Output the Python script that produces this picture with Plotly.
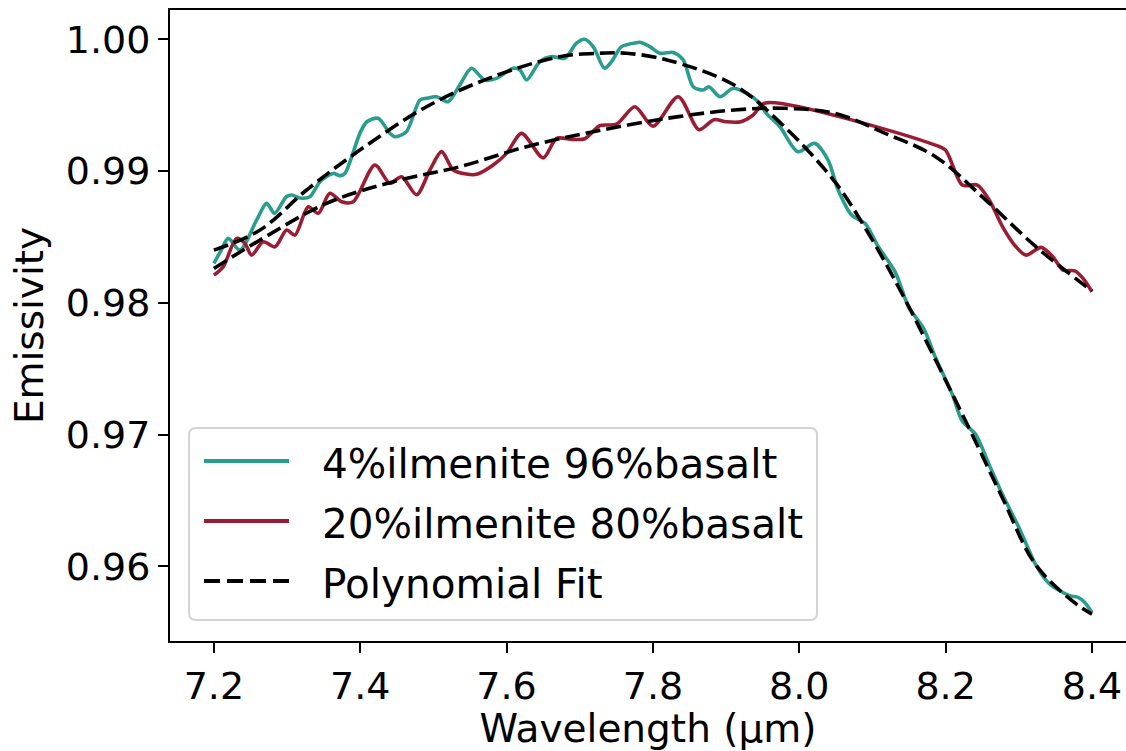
import plotly.graph_objects as go

# ---------------- data ----------------
teal_x = [7.200, 7.210, 7.2195, 7.2355, 7.2583, 7.272, 7.283, 7.299, 7.3062, 7.3175,
          7.3312, 7.345, 7.363, 7.372, 7.379, 7.3995, 7.409, 7.4245, 7.4405, 7.4475,
          7.463, 7.4815, 7.4905, 7.5043, 7.520, 7.536, 7.552, 7.570, 7.5864, 7.609,
          7.6182, 7.6275, 7.6455, 7.6615, 7.6795, 7.6955, 7.7066, 7.7184, 7.7338, 7.7435,
          7.757, 7.7777, 7.7822, 7.7959, 7.8096, 7.8277, 7.8414, 7.855, 7.8687, 7.8765,
          7.8916, 7.9097, 7.928, 7.9439, 7.955, 7.9736, 7.998, 8.0211, 8.0394, 8.0532,
          8.0715, 8.0898, 8.1081, 8.131, 8.1494, 8.170, 8.186, 8.209, 8.2228, 8.2411,
          8.2595, 8.2779, 8.3008, 8.3237, 8.342, 8.3696, 8.381, 8.3902, 8.400]
teal_y = [0.98300, 0.98400, 0.98489, 0.98400, 0.98628, 0.98755, 0.98679, 0.98805, 0.98818, 0.98795,
          0.98805, 0.98919, 0.98982, 0.98965, 0.98982, 0.99286, 0.99374, 0.99400, 0.99286, 0.99260,
          0.99298, 0.99539, 0.99552, 0.99564, 0.99526, 0.99653, 0.99780, 0.99691, 0.99703, 0.99780,
          0.99767, 0.99691, 0.99830, 0.99868, 0.99856, 0.99970, 1.00000, 0.99944, 0.99780, 0.99830,
          0.99944, 0.99974, 0.99977, 0.99944, 0.99894, 0.99900, 0.99843, 0.99640, 0.99615, 0.99640,
          0.99564, 0.99628, 0.99590, 0.99526, 0.99438, 0.99336, 0.99147, 0.99210, 0.99083, 0.98856,
          0.98666, 0.98603, 0.98425, 0.98235, 0.97970, 0.97806, 0.97587, 0.97307, 0.97103, 0.97001,
          0.96772, 0.96543, 0.96288, 0.96008, 0.95867, 0.95778, 0.95765, 0.95727, 0.95650]

red_x = [7.200, 7.2127, 7.231, 7.2424, 7.2515, 7.2674, 7.2834, 7.2994, 7.3107, 7.3289,
         7.3426, 7.3585, 7.3745, 7.3904, 7.420, 7.4405, 7.4565, 7.477, 7.4952, 7.5112,
         7.5271, 7.545, 7.559, 7.5817, 7.600, 7.6205, 7.650, 7.6683, 7.690, 7.707,
         7.7275, 7.750, 7.7754, 7.800, 7.8346, 7.8629, 7.8835, 7.900, 7.9202, 7.937,
         7.9535, 8.186, 8.1999, 8.2228, 8.2434, 8.2596, 8.2779, 8.2962, 8.310, 8.3306,
         8.3466, 8.3605, 8.3765, 8.3879, 8.400]
red_y = [0.98210, 0.98273, 0.98489, 0.98451, 0.98362, 0.98463, 0.98425, 0.98552, 0.98514, 0.98729,
         0.98679, 0.98831, 0.98767, 0.98767, 0.99046, 0.98907, 0.98957, 0.98820, 0.99008, 0.99147,
         0.99008, 0.98977, 0.98975, 0.99046, 0.99134, 0.99286, 0.99100, 0.99248, 0.99240, 0.99245,
         0.99345, 0.99355, 0.99488, 0.99340, 0.99564, 0.99314, 0.99390, 0.99374, 0.99374, 0.99425,
         0.99517, 0.99197, 0.99159, 0.98894, 0.98894, 0.98780, 0.98577, 0.98425, 0.98362, 0.98421,
         0.98349, 0.98248, 0.98243, 0.98185, 0.98084]

fit_teal_x = [7.200, 7.263, 7.3267, 7.3995, 7.4906, 7.5817, 7.6729, 7.7275, 7.764, 7.8192,
              7.911, 7.975, 8.0486, 8.0945, 8.1403, 8.2318, 8.2779, 8.3237, 8.3788, 8.400]
fit_teal_y = [0.98400, 0.98552, 0.98856, 0.99159, 0.99488, 0.99716, 0.99868, 0.99894, 0.99894, 0.99843,
              0.99653, 0.99362, 0.98919, 0.98527, 0.98071, 0.97052, 0.96517, 0.96008, 0.95714, 0.95638]

fit_red_x = [7.200, 7.2629, 7.354, 7.445, 7.5362, 7.6273, 7.7184, 7.8192, 7.911, 7.9799,
             8.0486, 8.1174, 8.1862, 8.2549, 8.3237, 8.400]
fit_red_y = [0.98261, 0.98476, 0.98755, 0.98919, 0.99033, 0.99185, 0.99298, 0.99400, 0.99463, 0.99476,
             0.99438, 0.99286, 0.99109, 0.98780, 0.98425, 0.98090]

legend_labels = ["4%ilmenite 96%basalt", "20%ilmenite 80%basalt", "Polynomial Fit"]
x_ticks = [7.2, 7.4, 7.6, 7.8, 8.0, 8.2, 8.4]
y_ticks = [0.96, 0.97, 0.98, 0.99, 1.00]

TEAL = "#2a9d8f"
RED = "#9b1d33"
FONT = "DejaVu Sans"

fig = go.Figure()
fig.add_trace(go.Scatter(x=teal_x, y=teal_y, mode="lines", name=legend_labels[0],
                         line=dict(color=TEAL, width=3.6, shape="spline", smoothing=0.8)))
fig.add_trace(go.Scatter(x=red_x, y=red_y, mode="lines", name=legend_labels[1],
                         line=dict(color=RED, width=3.6, shape="spline", smoothing=0.8)))
fig.add_trace(go.Scatter(x=fit_teal_x, y=fit_teal_y, mode="lines", name=legend_labels[2],
                         line=dict(color="black", width=3.6, dash="15px,6px", shape="spline")))
fig.add_trace(go.Scatter(x=fit_red_x, y=fit_red_y, mode="lines", name=legend_labels[2],
                         line=dict(color="black", width=3.6, dash="15px,6px", shape="spline")))

# ---- manual legend (pixel geometry converted to paper coords) ----
L, T, W, H = 170, 10, 956, 631
def px(v):
    return (v - L) / W
def py(v):
    return (T + H - v) / H

bx0, bx1, by0, by1, r = 189, 817, 428, 620, 7
path = (f"M {px(bx0 + r)},{py(by0)} L {px(bx1 - r)},{py(by0)} "
        f"Q {px(bx1)},{py(by0)} {px(bx1)},{py(by0 + r)} L {px(bx1)},{py(by1 - r)} "
        f"Q {px(bx1)},{py(by1)} {px(bx1 - r)},{py(by1)} L {px(bx0 + r)},{py(by1)} "
        f"Q {px(bx0)},{py(by1)} {px(bx0)},{py(by1 - r)} L {px(bx0)},{py(by0 + r)} "
        f"Q {px(bx0)},{py(by0)} {px(bx0 + r)},{py(by0)} Z")
shapes = [dict(type="path", path=path, xref="paper", yref="paper",
               line=dict(color="#d4d4d4", width=2), fillcolor="rgba(255,255,255,0.8)", layer="above")]
rows = [461, 521, 581]
styles = [dict(color=TEAL, width=4), dict(color=RED, width=4),
          dict(color="black", width=4, dash="16px,7px")]
annotations = []
for yy, st, lab in zip(rows, styles, legend_labels):
    shapes.append(dict(type="line", xref="paper", yref="paper", x0=px(204), x1=px(289),
                       y0=py(yy), y1=py(yy), line=st, layer="above"))
    annotations.append(dict(text=lab, xref="paper", yref="paper", x=px(320), y=py(yy + 3),
                            xanchor="left", yanchor="middle", showarrow=False,
                            font=dict(family=FONT, size=40.5, color="black")))

fig.update_layout(
    width=1126, height=751, autosize=False,
    margin=dict(l=L, r=0, t=T, b=751 - T - H),
    paper_bgcolor="white", plot_bgcolor="white",
    showlegend=False,
    font=dict(family=FONT, size=38, color="black"),
    shapes=shapes, annotations=annotations,
    xaxis=dict(range=[7.14, 7.14 + 956 / 731.7], tickvals=x_ticks, tickformat=".1f",
               ticks="outside", ticklen=10, tickwidth=1.6, tickcolor="black",
               showline=True, linecolor="black", linewidth=2, mirror=True,
               showgrid=False, zeroline=False,
               tickfont=dict(family=FONT, size=38, color="black"),
               title=dict(text="Wavelength (μm)", font=dict(family=FONT, size=39), standoff=8)),
    yaxis=dict(range=[0.95434, 1.00222], tickvals=y_ticks, tickformat=".2f",
               ticks="outside", ticklen=10, tickwidth=1.6, tickcolor="black",
               showline=True, linecolor="black", linewidth=2, mirror=False,
               showgrid=False, zeroline=False,
               tickfont=dict(family=FONT, size=38, color="black"),
               title=dict(text="Emissivity", font=dict(family=FONT, size=39), standoff=10)),
)

fig.write_html("out.html")
